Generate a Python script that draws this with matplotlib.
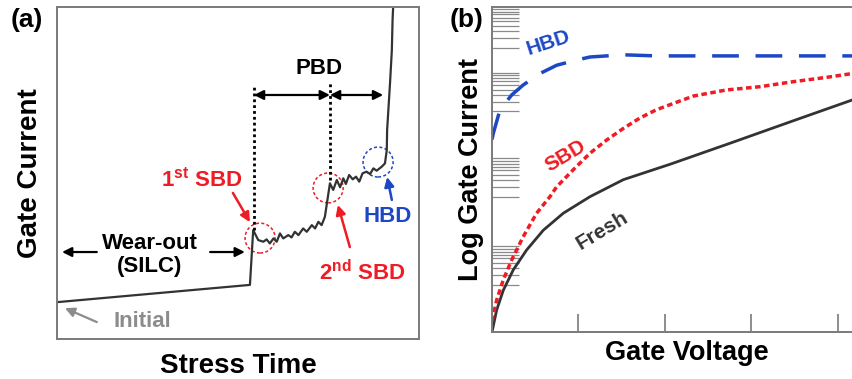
import matplotlib
matplotlib.use("Agg")
import matplotlib.pyplot as plt
import numpy as np
from matplotlib.patches import Ellipse

plt.rcParams['font.family'] = ['Liberation Sans', 'DejaVu Sans']
plt.rcParams['font.weight'] = 'bold'
plt.rcParams['mathtext.fontset'] = 'custom'
plt.rcParams['mathtext.rm'] = 'Liberation Sans:bold'
plt.rcParams['mathtext.bf'] = 'Liberation Sans:bold'

# ---- panel (a): gate current vs stress time (arbitrary units 0-100)
stress_time = [0, 53.3, 54.2, 55.6, 57.0, 57.9, 58.8, 59.8, 60.7, 61.6, 62.5, 63.9, 64.8,
               65.7, 66.7, 68.0, 69.0, 70.4, 71.3, 72.2, 73.1, 74.0, 75.4, 76.3, 77.3,
               78.2, 79.1, 79.8, 80.7, 81.7, 82.6, 83.5, 84.4, 85.5, 86.5, 87.4, 88.3,
               89.7, 90.6, 91.1, 91.2, 92.0, 92.5, 92.7, 92.9]
gate_current = [11.1, 16.3, 32.8, 29.8, 29.3, 30.0, 28.8, 30.3, 29.3, 31.8, 30.3, 31.3, 30.6,
                32.3, 31.3, 33.3, 32.3, 34.3, 33.3, 35.3, 34.3, 36.8, 46.9, 44.9, 47.9,
                45.7, 48.4, 46.7, 49.4, 48.1, 48.9, 47.4, 49.9, 50.4, 49.7, 51.4, 50.7,
                51.9, 52.9, 56.9, 63.0, 77.1, 87.0, 96.1, 101.0]
sbd1_time, sbd2_time, hbd_time = 54.4, 75.4, 90.1

# ---- panel (b): log gate current vs gate voltage
fresh_v = [0, 0.054, 0.131, 0.246, 0.40, 0.593, 0.825, 1.133, 1.52, 2.06, 2.75, 3.52, 4.17, 4.6]
fresh_i = [0, 0.40, 0.76, 1.13, 1.49, 1.85, 2.16, 2.46, 2.77, 3.05, 3.43, 3.86, 4.22, 4.46]
sbd_v = [0, 0.054, 0.131, 0.228, 0.36, 0.516, 0.67, 0.748, 0.94, 1.133, 1.326, 1.518, 1.71,
         1.90, 2.33, 2.71, 3.10, 3.48, 3.87, 4.17, 4.6]
sbd_i = [0.2, 0.58, 0.95, 1.31, 1.73, 2.16, 2.46, 2.64, 2.95, 3.25, 3.49, 3.70, 3.89,
         4.04, 4.29, 4.40, 4.46, 4.55, 4.63, 4.70, 4.78]
hbd_v = [0, 0.015, 0.092, 0.228, 0.36, 0.555, 0.748, 0.94, 1.133, 1.52, 1.90, 4.6]
hbd_i = [3.5, 3.61, 4.04, 4.31, 4.49, 4.70, 4.85, 4.93, 5.0, 5.04, 5.02, 5.02]
decade_tops = [1.56, 3.16, 4.71, 5.87]

black = '#333333'
red = '#ee1c24'
blue = '#1d47c4'
grey = '#8c8c8c'
spine = '#7a7a7a'

fig = plt.figure(figsize=(8.53, 3.79), dpi=100)

# ================= (a)
ax = fig.add_axes([0.0668, 0.1055, 0.4244, 0.876])
ax.plot(stress_time, gate_current, color=black, lw=1.6)
ax.set_xlim(0, 100)
ax.set_ylim(0, 100)
ax.set_xticks([])
ax.set_yticks([])
for s in ax.spines.values():
    s.set_color(spine)
    s.set_linewidth(1.4)
ax.set_xlabel('Stress Time', fontsize=20, fontweight='bold', labelpad=10)
ax.set_ylabel('Gate Current', fontsize=20, fontweight='bold', labelpad=10)

# dotted markers at breakdown events
ax.plot([sbd1_time, sbd1_time], [32.8, 75.9], color='black', lw=2.0, ls=(0, (1, 1.1)))
ax.plot([sbd2_time, sbd2_time], [47.9, 77.1], color='black', lw=2.0, ls=(0, (1, 1.1)))
arw = dict(arrowstyle='<|-|>', color='black', lw=1.6, mutation_scale=14, shrinkA=0, shrinkB=0)
ax.annotate('', xy=(sbd1_time, 73.5), xytext=(sbd2_time, 73.5), arrowprops=arw)
ax.annotate('', xy=(sbd2_time, 73.5), xytext=(hbd_time, 73.5), arrowprops=arw)
ax.text(72.4, 81.6, 'PBD', fontsize=16, fontweight='bold', ha='center', va='center')

one = dict(arrowstyle='-|>', color='black', lw=1.6, mutation_scale=14, shrinkA=0, shrinkB=0)
ax.annotate('', xy=(1.4, 26.2), xytext=(11.0, 26.2), arrowprops=one)
ax.annotate('', xy=(51.9, 26.2), xytext=(42.3, 26.2), arrowprops=one)
ax.text(25.7, 28.9, 'Wear-out', fontsize=16, fontweight='bold', ha='center', va='center')
ax.text(25.7, 21.7, '(SILC)', fontsize=16, fontweight='bold', ha='center', va='center')

ax.text(23.5, 5.4, 'Initial', fontsize=16, fontweight='bold', color=grey, ha='center', va='center')
ax.annotate('', xy=(2.2, 9.3), xytext=(11.0, 5.1),
            arrowprops=dict(arrowstyle='-|>', color=grey, lw=1.6, mutation_scale=14, shrinkA=0, shrinkB=0))

ax.text(40.0, 47.9, r'1$^{\mathbf{st}}$ SBD', fontsize=16, color=red, ha='center', va='center')
ax.annotate('', xy=(53.3, 35.2), xytext=(48.6, 44.0),
            arrowprops=dict(arrowstyle='-|>', color=red, lw=1.8, mutation_scale=14, shrinkA=0, shrinkB=0))
ax.text(84.2, 19.9, r'2$^{\mathbf{nd}}$ SBD', fontsize=16, color=red, ha='center', va='center')
ax.annotate('', xy=(77.6, 40.4), xytext=(80.9, 27.7),
            arrowprops=dict(arrowstyle='-|>', color=red, lw=1.8, mutation_scale=14, shrinkA=0, shrinkB=0))
ax.text(91.4, 36.8, 'HBD', fontsize=16, fontweight='bold', color=blue, ha='center', va='center')
ax.annotate('', xy=(91.2, 48.8), xytext=(92.5, 41.9),
            arrowprops=dict(arrowstyle='-|>', color=blue, lw=1.8, mutation_scale=14, shrinkA=0, shrinkB=0))

for (cx, cy), col in [((56.1, 30.4), red), ((74.9, 45.5), red), ((88.7, 53.3), blue)]:
    ax.add_patch(Ellipse((cx, cy), 8.3, 9.0, fill=False, ec=col, lw=1.1, ls=(0, (2, 1.5))))

fig.text(27 / 853, 1 - 20 / 379, '(a)', fontsize=19, fontweight='bold', ha='center', va='center')

# ================= (b)
bx = fig.add_axes([492 / 853, 47 / 379, 389 / 853, 325 / 379])
bx.plot(fresh_v, fresh_i, color=black, lw=2.0, solid_capstyle='round', solid_joinstyle='round')
bx.plot(sbd_v, sbd_i, color=red, lw=2.5, ls=(0, (1.6, 1.0)))
bx.plot(hbd_v, hbd_i, color=blue, lw=2.5, ls=(0, (7.7, 4.8)))
bx.set_xlim(0, 4.5)
bx.set_ylim(0, 325 / 55)
bx.spines['right'].set_visible(False)
for s in ['left', 'bottom', 'top']:
    bx.spines[s].set_color(spine)
    bx.spines[s].set_linewidth(1.4)
bx.set_xticks([1, 2, 3, 4])
bx.tick_params(axis='x', direction='in', length=13, width=1.2, color=spine, labelbottom=False)
yt = []
for top in decade_tops:
    for m in range(2, 11):
        yt.append(top - np.log10(10 / m))
bx.set_yticks(yt)
bx.tick_params(axis='y', direction='in', length=19.5, width=0.9, color='#8a8a8a', labelleft=False)
bx.set_xlabel('Gate Voltage', fontsize=19.5, fontweight='bold', labelpad=6)
bx.set_ylabel('Log Gate Current', fontsize=19.5, fontweight='bold', labelpad=6)

bx.text(0.65, 5.25, 'HBD', fontsize=15, fontweight='bold', color=blue, rotation=18, ha='center', va='center')
bx.text(0.85, 3.2, 'SBD', fontsize=15, fontweight='bold', color=red, rotation=31, ha='center', va='center')
bx.text(1.28, 1.85, 'Fresh', fontsize=15, fontweight='bold', color=black, rotation=31, ha='center', va='center')

fig.text(467 / 853, 1 - 20 / 379, '(b)', fontsize=19, fontweight='bold', ha='center', va='center')

fig.savefig('out.png', dpi=100)
